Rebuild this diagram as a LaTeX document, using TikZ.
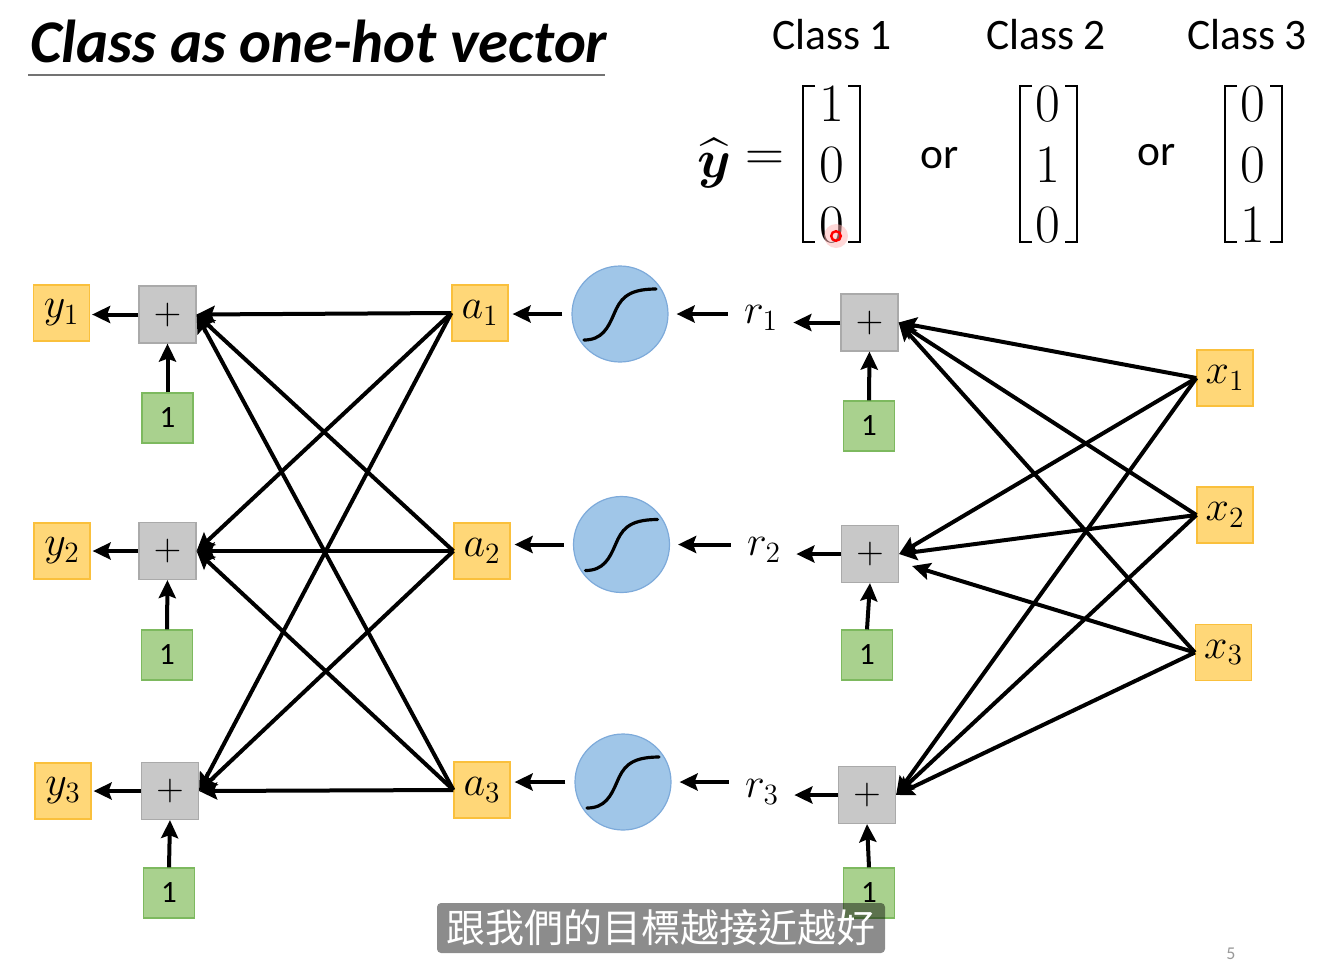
\RequirePackage{fix-cm}
\documentclass[tikz,border=0pt]{standalone}
\usepackage{amsmath}
\usepackage[no-math]{fontspec}
\setmainfont{Carlito}
\newfontfamily\cjkfont{Noto Sans CJK TC}
\usetikzlibrary{arrows.meta}

\definecolor{yfill}{RGB}{255,215,120}
\definecolor{ydraw}{RGB}{250,192,60}
\definecolor{gfill}{RGB}{169,209,142}
\definecolor{gdraw}{RGB}{125,185,95}
\definecolor{pfill}{RGB}{200,200,200}
\definecolor{pdraw}{RGB}{170,170,170}
\definecolor{sfill}{RGB}{160,198,232}
\definecolor{sdraw}{RGB}{125,170,218}

\newcommand\lblfont{\fontsize{21}{24}\selectfont}
\newcommand\clsfont{\fontsize{21.75}{26}\selectfont}
\newcommand\matfont{\fontsize{27}{30}\selectfont}

\begin{document}
\begin{tikzpicture}[x=0.5pt,y=-0.5pt,
  ybox/.style={draw=ydraw,fill=yfill,line width=0.6pt,minimum width=28pt,minimum height=28pt,inner sep=0pt,font=\lblfont},
  pbox/.style={draw=pdraw,fill=pfill,line width=0.6pt,minimum width=28.5pt,minimum height=28.5pt,inner sep=0pt,font=\fontsize{19}{22}\selectfont},
  gbox/.style={draw=gdraw,fill=gfill,line width=0.6pt,minimum width=25.5pt,minimum height=25pt,inner sep=0pt,font=\fontsize{15.5}{18}\selectfont},
  sig/.style={circle,draw=sdraw,fill=sfill,line width=0.6pt,minimum size=48pt,inner sep=0pt},
  rlbl/.style={inner sep=0pt,font=\lblfont},
  arr/.style={line width=2pt,-{Stealth[length=9pt,width=8.5pt,inset=1.5pt]}},
  brk/.style={line width=1.4pt,miter limit=10},
  digit/.style={inner sep=0pt,font=\matfont},
  cls/.style={inner sep=0pt,font=\clsfont},
  scurve/.style={line width=1.6pt,line cap=round}
]
\useasboundingbox (0,0) rectangle (1327,964);

% title
\node[anchor=base west,inner sep=0pt,font=\bfseries\itshape\fontsize{30.3}{36}\selectfont] (title) at (30,62) {Class as one-hot vector};
\draw[black!55,line width=1pt] (28,75) -- (605,75);

% class labels
\node[cls] (c1) at (832,35) {Class 1};
\node[cls] (c2) at (1046,35) {Class 2};
\node[cls] (c3) at (1247,35) {Class 3};

% y hat =
\node[inner sep=0pt,font=\matfont] (yhat) at (714,163) {$\widehat{\boldsymbol{y}}$};
\node[inner sep=0pt,font=\matfont] (eq) at (765,161) {$=$};
\node[cls] (or1) at (940,158) {or};
\node[cls] (or2) at (1157,155) {or};

% matrices
\foreach \m/\cx/\a/\b/\c in {1/832/1/0/0, 2/1048/0/1/0, 3/1253/0/0/1}{
  \node[digit] (m\m a) at (\cx,104) {$\a$};
  \node[digit] (m\m b) at (\cx,165) {$\b$};
  \node[digit] (m\m c) at (\cx,225) {$\c$};
}
\foreach \L/\R in {803/860, 1020/1077, 1225/1282}{
  \draw[brk] ({\L+12},86) -- (\L,86) -- (\L,242) -- ({\L+12},242);
  \draw[brk] ({\R-12},86) -- (\R,86) -- (\R,242) -- ({\R-12},242);
}
% laser pointer dot
\fill[red!30,opacity=0.5] (836,236) circle (6pt);
\draw[red,line width=1.2pt] (836,236) circle (2.4pt);

% left column
\node[ybox] (y1) at (61.5,313) {$y_1$};
\node[ybox] (y2) at (62,551) {$y_2$};
\node[ybox] (y3) at (63,791) {$y_3$};
\node[pbox] (p1) at (167.5,314.5) {$+$};
\node[pbox] (p2) at (167.5,551) {$+$};
\node[pbox] (p3) at (170,791) {$+$};
\node[gbox] (g1) at (167.5,418) {1};
\node[gbox] (g2) at (167,655) {1};
\node[gbox] (g3) at (169,893) {1};

% a boxes
\node[ybox] (a1) at (480,313) {$a_1$};
\node[ybox] (a2) at (482,551) {$a_2$};
\node[ybox] (a3) at (482,790) {$a_3$};

% sigmoids
\node[sig] (s1) at (620,314) {};
\node[sig] (s2) at (621.5,544.5) {};
\node[sig] (s3) at (623,782) {};
\foreach \s in {s1,s2,s3}{
  \begin{scope}[shift={(\s.center)}]
    \draw[scurve] (-36,26) .. controls (-18,26) and (-12,14) .. (-6,0)
                 .. controls (0,-14) and (6,-25) .. (36,-25);
  \end{scope}
}

% r labels
\node[rlbl] (r1) at (761,318) {$r_1$};
\node[rlbl] (r2) at (764,550) {$r_2$};
\node[rlbl] (r3) at (762,792) {$r_3$};

% right plus and ones
\node[pbox] (q1) at (869.5,322.5) {$+$};
\node[pbox] (q2) at (870,554) {$+$};
\node[pbox] (q3) at (867,795) {$+$};
\node[gbox] (h1) at (869,426) {1};
\node[gbox] (h2) at (867,655) {1};
\node[gbox] (h3) at (869,893) {1};

% x boxes
\node[ybox] (x1) at (1225,378) {$x_1$};
\node[ybox] (x2) at (1225,515) {$x_2$};
\node[ybox] (x3) at (1223.5,652.5) {$x_3$};

% arrows: outputs, biases and sigmoid chain
\foreach \i in {1,2,3}{
  \draw[arr,shorten >=1pt] (p\i.west) -- (y\i.east |- p\i.west);
  \draw[arr] (g\i.north) -- (p\i.south);
  \draw[arr] (h\i.north) -- (q\i.south);
  \draw[arr,shorten <=4.5pt,shorten >=2pt] (s\i.west) -- (a\i.east |- s\i.west);
  \draw[arr,shorten <=8pt,shorten >=4pt] (r\i.west |- s\i.east) -- (s\i.east);
  \draw[arr,shorten >=7.5pt] (q\i.west) -- (r\i.east |- q\i.west);
}
% crossing connections
\foreach \i in {1,2,3}{
  \foreach \j in {1,2,3}{
    \draw[arr] (a\i.west) -- (p\j.east);
  }
}
\draw[arr] (x1.west) -- (q1.east);
\draw[arr] (x1.west) -- (q2.east);
\draw[arr] (x1.west) -- (q3.east);
\draw[arr] (x2.west) -- (q1.east);
\draw[arr] (x2.west) -- (q2.east);
\draw[arr] (x2.west) -- (q3.east);
\draw[arr] (x3.west) -- (q1.east);
\draw[arr] (x3.west) -- ([shift={(13,12)}]q2.east);
\draw[arr] (x3.west) -- (q3.east);

% subtitle
\node[fill=black,fill opacity=0.45,text opacity=1,text=white,rounded corners=2pt,
      minimum width=224pt,minimum height=25pt,inner sep=0pt,
      font=\cjkfont\fontsize{19.5}{22}\selectfont] (sub) at (661,928) {跟我們的目標越接近越好};

% page number
\node[text=black!40,inner sep=0pt,font=\fontsize{9}{10}\selectfont] (pg) at (1231,954) {5};
\end{tikzpicture}
\end{document}
